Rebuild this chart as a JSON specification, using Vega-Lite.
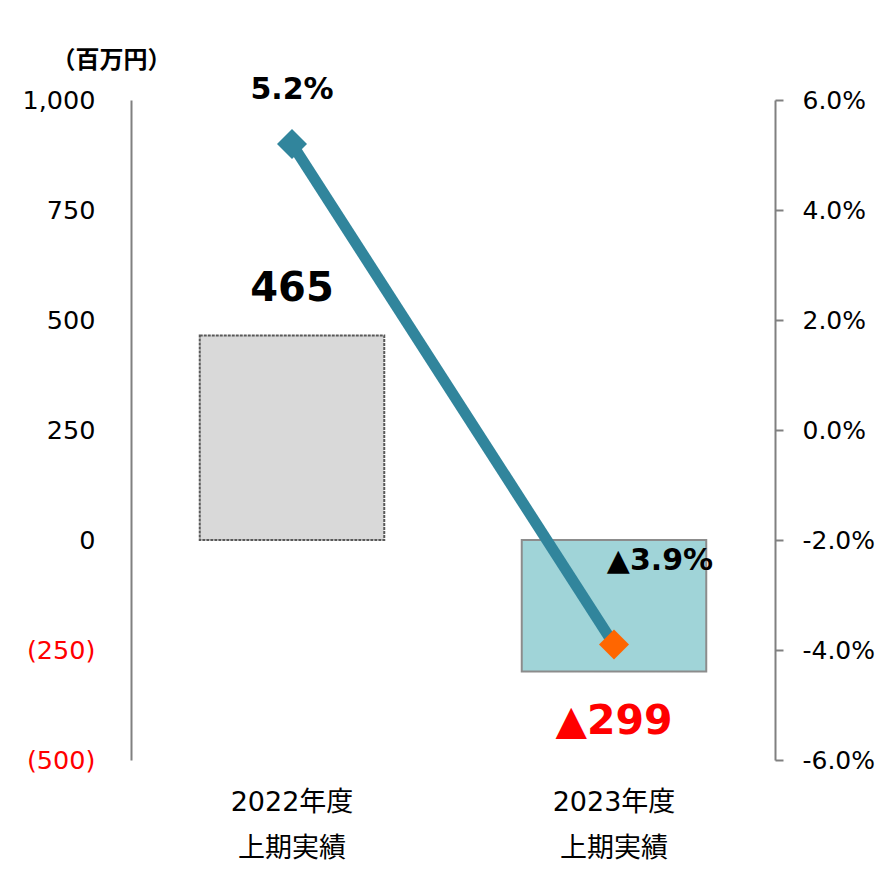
{
  "$schema": "https://vega.github.io/schema/vega-lite/v6.json",
  "autosize": {"type": "none"},
  "width": 644,
  "height": 660,
  "padding": {"left": 131, "top": 100, "right": 108, "bottom": 112},
  "background": "white",
  "config": {"font": "DejaVu Sans, Noto Sans CJK JP", "view": {"stroke": null}},
  "data": {
    "values": [
      {"period": "2022年度|上期実績", "profit": 465, "margin": 5.2, "profitLabel": "465", "marginLabel": "5.2%"},
      {"period": "2023年度|上期実績", "profit": -299, "margin": -3.9, "profitLabel": "▲299", "marginLabel": "▲3.9%"}
    ]
  },
  "encoding": {
    "x": {
      "field": "period",
      "type": "nominal",
      "sort": null,
      "title": null,
      "scale": {"paddingInner": 0, "paddingOuter": 0},
      "axis": {
        "labelExpr": "split(datum.label, '|')",
        "labelAngle": 0,
        "labelFontSize": 27,
        "labelLineHeight": 46,
        "labelPadding": 29,
        "labelBaseline": "top",
        "labelColor": "black",
        "domain": false,
        "ticks": false,
        "grid": false
      }
    }
  },
  "layer": [
    {
      "layer": [
        {
          "mark": {"type": "bar", "width": {"band": 0.573}, "strokeWidth": 2},
          "encoding": {
            "y": {
              "field": "profit",
              "type": "quantitative",
              "title": "（百万円）",
              "scale": {"domain": [-500, 1000], "nice": false, "zero": false},
              "axis": {
                "values": [-500, -250, 0, 250, 500, 750, 1000],
                "labelExpr": "datum.value < 0 ? '(' + format(-datum.value, ',') + ')' : format(datum.value, ',')",
                "labelColor": {"condition": {"test": "datum.value < 0", "value": "red"}, "value": "black"},
                "labelFontSize": 25.5,
                "labelPadding": 36,
                "ticks": false,
                "grid": false,
                "domainColor": "#808080",
                "domainWidth": 2,
                "titleAngle": 0,
                "titleX": -20,
                "titleY": -40,
                "titleAlign": "center",
                "titleBaseline": "middle",
                "titleFontSize": 24,
                "titleFontWeight": "bold",
                "titleFont": "Noto Sans CJK JP",
                "titleColor": "black"
              }
            },
            "fill": {"condition": {"test": "datum.profit < 0", "value": "#a0d4d8"}, "value": "#d9d9d9"},
            "stroke": {"condition": {"test": "datum.profit < 0", "value": "#8c8c8c"}, "value": "#595959"},
            "strokeDash": {"condition": {"test": "datum.profit < 0", "value": [1, 0]}, "value": [3, 1]}
          }
        },
        {
          "mark": {"type": "rule", "color": "#808080", "strokeWidth": 2},
          "encoding": {"y": {"datum": 0, "type": "quantitative"}}
        },
        {
          "transform": [{"filter": "datum.profit >= 0"}],
          "mark": {"type": "text", "fontSize": 40, "fontWeight": "bold", "dy": -46, "color": "black", "font": "DejaVu Sans"},
          "encoding": {
            "y": {"field": "profit", "type": "quantitative", "title": "（百万円）"},
            "text": {"field": "profitLabel"}
          }
        },
        {
          "transform": [{"filter": "datum.profit < 0"}],
          "mark": {"type": "text", "fontSize": 41, "fontWeight": "bold", "dy": 50, "color": "#ff0000", "font": "DejaVu Sans"},
          "encoding": {
            "y": {"field": "profit", "type": "quantitative", "title": "（百万円）"},
            "text": {"field": "profitLabel"}
          }
        }
      ]
    },
    {
      "layer": [
        {
          "mark": {"type": "line", "color": "#31859c", "strokeWidth": 11},
          "encoding": {
            "y": {
              "field": "margin",
              "type": "quantitative",
              "title": null,
              "scale": {"domain": [-6, 6], "nice": false, "zero": false},
              "axis": {
                "orient": "right",
                "values": [-6, -4, -2, 0, 2, 4, 6],
                "labelExpr": "(datum.value < 0 ? '-' : '') + format(abs(datum.value), '.1f') + '%'",
                "labelFontSize": 25,
                "labelPadding": 19,
                "labelColor": "black",
                "ticks": true,
                "tickSize": 8,
                "tickWidth": 2,
                "tickColor": "#808080",
                "grid": false,
                "domainColor": "#808080",
                "domainWidth": 2
              }
            }
          }
        },
        {
          "mark": {"type": "point", "shape": "diamond", "filled": true, "size": 900, "opacity": 1},
          "encoding": {
            "y": {"field": "margin", "type": "quantitative", "title": null},
            "color": {"condition": {"test": "datum.margin < 0", "value": "#ff6600"}, "value": "#31859c"}
          }
        },
        {
          "transform": [{"filter": "datum.margin >= 0"}],
          "mark": {"type": "text", "fontSize": 30, "fontWeight": "bold", "dy": -54, "color": "black", "font": "DejaVu Sans"},
          "encoding": {
            "y": {"field": "margin", "type": "quantitative", "title": null},
            "text": {"field": "marginLabel"}
          }
        },
        {
          "transform": [{"filter": "datum.margin < 0"}],
          "mark": {"type": "text", "fontSize": 30, "fontWeight": "bold", "dx": 46, "dy": -84, "color": "black", "font": "DejaVu Sans"},
          "encoding": {
            "y": {"field": "margin", "type": "quantitative", "title": null},
            "text": {"field": "marginLabel"}
          }
        }
      ]
    }
  ],
  "resolve": {"scale": {"y": "independent"}}
}
